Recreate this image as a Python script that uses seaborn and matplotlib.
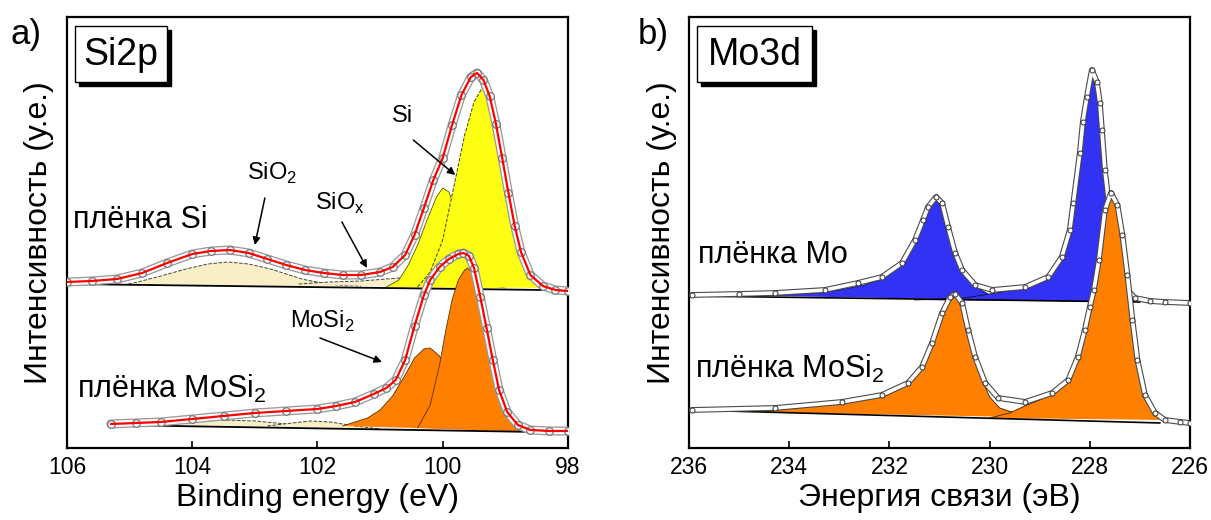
import matplotlib
matplotlib.use("Agg")
import matplotlib.pyplot as plt
from matplotlib.patches import Rectangle
import seaborn as sns

# ---------------- a) Si2p ----------------
# binding energy (eV) and intensity (a.u.)
SI_E = [106.0, 105.6, 105.2, 104.8, 104.4, 104.0, 103.7, 103.4, 103.1, 102.8,
        102.5, 102.2, 101.9, 101.6, 101.3, 101.0, 100.8, 100.6, 100.45, 100.3,
        100.15, 100.0, 99.85, 99.7, 99.55, 99.45, 99.35, 99.25, 99.15, 99.05,
        98.95, 98.85, 98.75, 98.6, 98.4, 98.2, 98.0]
SI_I = [166, 167, 169, 175, 185, 194, 197, 198, 195, 189,
        183, 178, 175, 173, 173, 176, 181, 193, 213, 240,
        268, 290, 323, 353, 371, 375, 368, 352, 324, 290,
        255, 222, 196, 173, 162, 158, 157]
SI_BG_E = [106.0, 98.4]
SI_BG_I = [164, 158]

SI_OXA_E = [105.0, 104.6, 104.3, 104.1, 103.8, 103.3, 102.8, 102.25, 101.9, 101.5]
SI_OXA_I = [163, 168, 173, 175, 174, 172, 170, 168, 165, 162]
SI_SIO2_E = [105.1, 104.87, 104.5, 104.1, 103.75, 103.43, 103.1, 102.75, 102.5,
             102.25, 101.95, 101.67, 101.3]
SI_SIO2_I = [163, 166, 172, 179, 184, 186, 184, 179, 174, 169, 165, 163, 162]
SI_SIOX_E = [102.3, 101.8, 101.3, 100.9, 100.68, 100.4, 100.1, 99.8, 99.5]
SI_SIOX_I = [164, 166, 167, 169, 170, 168, 164, 161, 159]
SI_P12_E = [100.9, 100.7, 100.55, 100.4, 100.25, 100.1, 100.0, 99.9, 99.8, 99.7,
            99.55, 99.4, 99.2, 99.0]
SI_P12_I = [161, 168, 183, 203, 228, 251, 260, 256, 238, 213, 186, 170, 162, 160]
SI_P32_E = [100.4, 100.2, 100.0, 99.8, 99.65, 99.5, 99.37, 99.25, 99.1, 98.95,
            98.8, 98.65, 98.5, 98.3]
SI_P32_I = [161, 176, 208, 268, 313, 346, 360, 348, 306, 253, 208, 180, 167, 160]

MS_E = [105.3, 104.9, 104.5, 104.0, 103.5, 103.0, 102.5, 102.0, 101.7, 101.4,
        101.1, 100.9, 100.75, 100.6, 100.45, 100.3, 100.2, 100.05, 99.9, 99.75,
        99.67, 99.58, 99.5, 99.4, 99.3, 99.2, 99.1, 98.97, 98.8, 98.6, 98.3, 98.0]
MS_I = [24, 25, 26, 29, 32, 35, 37, 39, 42, 46,
        54, 60, 68, 88, 122, 153, 168, 181, 189, 194,
        195, 192, 180, 151, 120, 88, 58, 36, 23, 18, 17, 17]
MS_BG_E = [105.3, 98.5]
MS_BG_I = [23, 16]
MS_OX1_E = [104.6, 104.0, 103.5, 103.0, 102.5, 102.0]
MS_OX1_I = [23, 26, 28, 27, 24, 21]
MS_OX2_E = [102.8, 102.4, 102.1, 101.8, 101.4, 101.0]
MS_OX2_I = [22, 25, 27, 26, 22, 19]
MS_PA_E = [101.6, 101.2, 101.0, 100.8, 100.6, 100.45, 100.3, 100.2, 100.05, 99.9,
           99.75, 99.6, 99.45, 99.3]
MS_PA_I = [22, 30, 38, 52, 73, 90, 99, 100, 92, 72, 48, 30, 21, 18]
MS_PB_E = [100.4, 100.2, 100.05, 99.95, 99.85, 99.75, 99.65, 99.6, 99.5, 99.4,
           99.3, 99.2, 99.1, 99.0, 98.9, 98.75, 98.6]
MS_PB_I = [20, 43, 83, 118, 148, 168, 178, 180, 173, 150,
           118, 86, 58, 38, 25, 18, 16]

# ---------------- b) Mo3d ----------------
MO_E = [235.95, 235.0, 234.28, 233.29, 232.63, 232.15, 231.75, 231.49, 231.33, 231.23,
        231.07, 230.95, 230.83, 230.69, 230.55, 230.29, 229.95, 229.29, 228.83, 228.56,
        228.4, 228.33, 228.2, 228.14, 228.06, 227.96, 227.86, 227.8, 227.76, 227.7,
        227.62, 227.5, 227.4, 227.25, 227.1, 226.8, 226.5, 226.0]
MO_I = [153, 154, 155, 158, 165, 171, 185, 208, 228, 241,
        251, 245, 221, 195, 178, 163, 158, 161, 171, 191,
        218, 245, 295, 326, 351, 378, 366, 345, 318, 278,
        243, 203, 178, 158, 150, 147, 146, 145]
MO_BG_E = [236.0, 227.0]
MO_BG_I = [152, 146]
MO_D32_E = [235.5, 234.5, 233.5, 233.0, 232.5, 232.1, 231.8, 231.55, 231.35, 231.2,
            231.07, 230.95, 230.8, 230.65, 230.5, 230.3, 230.0, 229.5, 229.0, 228.5]
MO_D32_I = [153, 153, 155, 158, 163, 170, 182, 205, 228, 244,
            251, 244, 220, 194, 176, 162, 153, 150, 148, 147]
MO_D52_E = [231.5, 230.5, 230.0, 229.5, 229.0, 228.8, 228.6, 228.45, 228.33, 228.2,
            228.1, 228.0, 227.96, 227.88, 227.8, 227.72, 227.65, 227.55, 227.45, 227.3,
            227.15, 227.0]
MO_D52_I = [148, 150, 154, 158, 165, 171, 186, 210, 243, 293,
            338, 372, 378, 368, 345, 298, 253, 213, 186, 163,
            151, 146]

MB_E = [235.95, 234.28, 232.95, 232.15, 231.63, 231.35, 231.15, 230.95, 230.79, 230.69,
        230.55, 230.43, 230.29, 230.09, 229.83, 229.29, 228.75, 228.43, 228.24, 228.1,
        228.0, 227.92, 227.82, 227.7, 227.58, 227.45, 227.35, 227.25, 227.15, 227.05,
        226.9, 226.7, 226.5, 226.2, 226.0]
MB_I = [38, 40, 46, 53, 65, 81, 105, 135, 151, 154,
        145, 118, 91, 65, 50, 46, 55, 68, 91, 118,
        141, 158, 188, 238, 255, 243, 213, 173, 128, 88,
        53, 35, 28, 26, 25]
MB_BG_E = [236.0, 226.6]
MB_BG_I = [38, 25]
MB_D32_E = [235.5, 234.5, 233.5, 233.0, 232.5, 232.0, 231.6, 231.35, 231.15, 230.95,
            230.79, 230.69, 230.55, 230.43, 230.29, 230.15, 230.0, 229.8, 229.5, 229.0,
            228.5]
MB_D32_I = [37, 39, 42, 45, 49, 55, 65, 81, 105, 135,
            151, 154, 145, 118, 91, 68, 51, 40, 35, 32,
            30]
MB_D52_E = [230.0, 229.6, 229.3, 229.0, 228.75, 228.5, 228.3, 228.1, 228.0, 227.9,
            227.8, 227.7, 227.58, 227.45, 227.35, 227.25, 227.15, 227.05, 226.9, 226.7,
            226.5]
MB_D52_I = [30, 35, 42, 48, 55, 65, 81, 113, 136, 163,
            198, 233, 255, 243, 213, 173, 128, 88, 53, 35,
            28]

RED = "#ff0000"
YELLOW = "#ffff14"
BEIGE = "#f8efc6"
ORANGE = "#ff8000"
BLUE = "#3232f5"

sns.set_style("white")
plt.rcParams["font.family"] = ["Liberation Sans", "DejaVu Sans"]
plt.rcParams["mathtext.fontset"] = "custom"
plt.rcParams["mathtext.rm"] = "Liberation Sans"
for key in ("text.color", "axes.labelcolor", "xtick.color", "ytick.color"):
    plt.rcParams[key] = "black"


def component(ax, e, i, fc, z, ls="-", ec="#333333", lw=0.7):
    ax.fill(e, i, facecolor=fc, edgecolor="none", zorder=z)
    ax.plot(e, i, color=ec, lw=lw, ls=ls, zorder=z + 0.1)


def spectrum(ax, e, i, z, big=True):
    if big:
        ax.plot(e, i, color="#9a9a9a", lw=6.5, solid_capstyle="round", zorder=z)
        ax.plot(e, i, color="white", lw=4.6, solid_capstyle="round", zorder=z + 0.1)
        sns.scatterplot(x=e, y=i, ax=ax, s=30, color="white", edgecolor="#777777",
                        linewidth=0.9, zorder=z + 0.2, legend=False)
        sns.lineplot(x=e, y=i, ax=ax, color=RED, lw=1.6, sort=False,
                     estimator=None, zorder=z + 0.3)
    else:
        sns.lineplot(x=e, y=i, ax=ax, color=RED, lw=1.4, sort=False,
                     estimator=None, zorder=z)
        ax.plot(e, i, color="#4a4a4a", lw=4.2, solid_capstyle="round", zorder=z + 0.1)
        ax.plot(e, i, color="white", lw=2.6, solid_capstyle="round", zorder=z + 0.2)
        sns.scatterplot(x=e, y=i, ax=ax, s=13, color="white", edgecolor="#333333",
                        linewidth=0.7, zorder=z + 0.3, legend=False)


def title_box(ax, text, w):
    # white box with a black drop shadow, as in the original
    ax.add_patch(Rectangle((0.024, 0.840), w, 0.130, transform=ax.transAxes,
                           facecolor="black", edgecolor="black", zorder=20))
    ax.add_patch(Rectangle((0.016, 0.849), w, 0.130, transform=ax.transAxes,
                           facecolor="white", edgecolor="black", lw=1.0, zorder=21))
    ax.text(0.016 + w / 2, 0.912, text, transform=ax.transAxes, ha="center",
            va="center", fontsize=27, zorder=22)


fig = plt.figure(figsize=(12.11, 5.2), dpi=100)
ax_a = fig.add_axes([0.0553, 0.1385, 0.4137, 0.8288])
ax_b = fig.add_axes([0.569, 0.1385, 0.4137, 0.8288])

# ---- panel a ----
ax = ax_a
component(ax, SI_OXA_E, SI_OXA_I, BEIGE, 1, ls="--", ec="#444444", lw=0.7)
component(ax, SI_SIO2_E, SI_SIO2_I, BEIGE, 1.2, ls="--", ec="#444444", lw=0.7)
component(ax, SI_SIOX_E, SI_SIOX_I, BEIGE, 1.4, ls="--", ec="#444444", lw=0.7)
component(ax, SI_P12_E, SI_P12_I, YELLOW, 1.6, ec="#555500", lw=0.6)
component(ax, SI_P32_E, SI_P32_I, YELLOW, 1.8, ls="--", ec="#444400", lw=0.7)
ax.plot(SI_BG_E, SI_BG_I, color="black", lw=1.3, zorder=2.5)
spectrum(ax, SI_E, SI_I, 3)

component(ax, MS_OX1_E, MS_OX1_I, BEIGE, 6, ls="--", ec="#444444", lw=0.7)
component(ax, MS_OX2_E, MS_OX2_I, BEIGE, 6.2, ls="--", ec="#444444", lw=0.7)
component(ax, MS_PA_E, MS_PA_I, ORANGE, 6.4, ec="#5a3000", lw=0.6)
component(ax, MS_PB_E, MS_PB_I, ORANGE, 6.6, ec="#5a3000", lw=0.6)
ax.plot(MS_BG_E, MS_BG_I, color="black", lw=1.3, zorder=7)
spectrum(ax, MS_E, MS_I, 8)

ax.set_xlim(106, 98)
ax.set_ylim(0, 431)
ax.set_xticks([106, 104, 102, 100, 98])
ax.set_yticks([])
ax.set_xlabel("Binding energy (eV)", fontsize=23, labelpad=3)
ax.set_ylabel("Интенсивность (у.е.)", fontsize=23, labelpad=9)

txt = dict(fontsize=22, zorder=15)
ax.text(105.9, 220, "плёнка Si", ha="left", va="baseline", **txt)
ax.text(105.84, 50, "плёнка MoSi$_\\mathregular{2}$", ha="left", va="baseline", **txt)

arrow = dict(arrowstyle="-|>", color="black", lw=1.1, mutation_scale=11,
             shrinkA=0, shrinkB=0)
small = dict(fontsize=17, ha="center", va="center", zorder=15)
ax.text(100.65, 332, "Si", **small)
ax.annotate("", xy=(99.8, 273), xytext=(100.47, 308), arrowprops=arrow, zorder=15)
ax.text(102.73, 275, "SiO$_\\mathregular{2}$", **small)
ax.annotate("", xy=(103.0, 203), xytext=(102.84, 250), arrowprops=arrow, zorder=15)
ax.text(101.64, 245, "SiO$_\\mathregular{x}$", **small)
ax.annotate("", xy=(101.21, 180), xytext=(101.61, 226), arrowprops=arrow, zorder=15)
ax.text(101.93, 127, "MoSi$_\\mathregular{2}$", **small)
ax.annotate("", xy=(100.97, 86), xytext=(101.96, 110), arrowprops=arrow, zorder=15)
title_box(ax, "Si2p", 0.184)

# ---- panel b ----
ax = ax_b
component(ax, MO_D32_E, MO_D32_I, BLUE, 1, ec="#111133", lw=0.6)
component(ax, MO_D52_E, MO_D52_I, BLUE, 1.2, ec="#111133", lw=0.6)
ax.plot(MO_BG_E, MO_BG_I, color="black", lw=1.2, zorder=2.5)
spectrum(ax, MO_E, MO_I, 3, big=False)

component(ax, MB_D32_E, MB_D32_I, ORANGE, 6, ec="#3a2000", lw=0.6)
component(ax, MB_D52_E, MB_D52_I, ORANGE, 6.2, ec="#3a2000", lw=0.6)
ax.plot(MB_BG_E, MB_BG_I, color="black", lw=1.2, zorder=7)
spectrum(ax, MB_E, MB_I, 8, big=False)

ax.set_xlim(236, 226)
ax.set_ylim(0, 431)
ax.set_xticks([236, 234, 232, 230, 228, 226])
ax.set_yticks([])
ax.set_xlabel("Энергия связи (эВ)", fontsize=23, labelpad=3)
ax.set_ylabel("Интенсивность (у.е.)", fontsize=23, labelpad=9)
ax.text(235.82, 185, "плёнка Mo", ha="left", va="baseline", **txt)
ax.text(235.88, 70, "плёнка MoSi$_\\mathregular{2}$", ha="left", va="baseline", **txt)
title_box(ax, "Mo3d", 0.23)

for ax in (ax_a, ax_b):
    ax.tick_params(axis="x", direction="in", length=5, width=1.2, labelsize=16.5,
                   pad=6, bottom=True, top=False, colors="black")
    for sp in ax.spines.values():
        sp.set_color("black")
        sp.set_linewidth(1.6)

fig.text(0.009, 0.965, "a)", fontsize=25, va="top", ha="left")
fig.text(0.527, 0.965, "b)", fontsize=25, va="top", ha="left")

fig.savefig("out.png", dpi=100)
